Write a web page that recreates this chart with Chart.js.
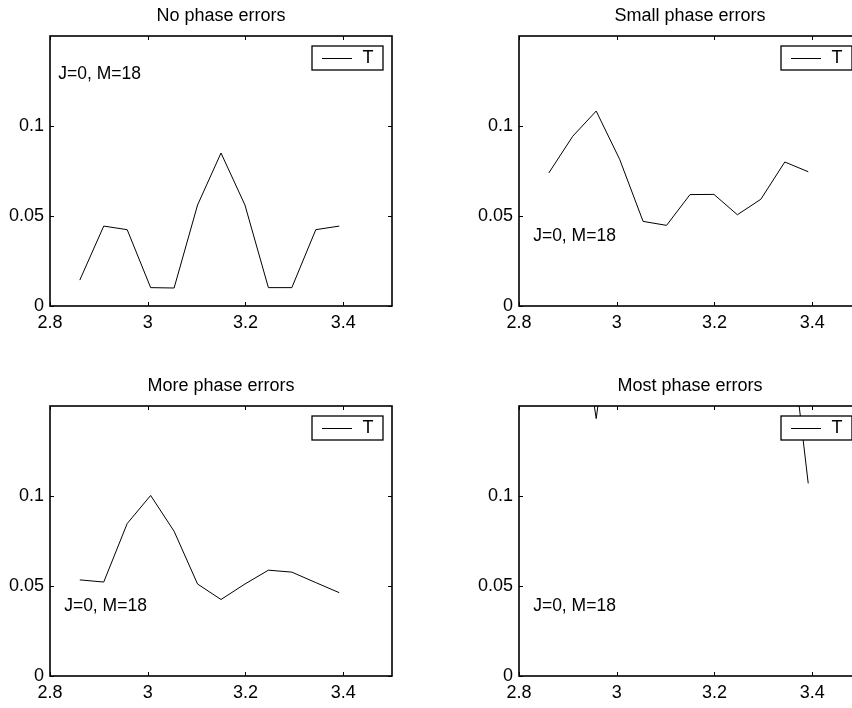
<!DOCTYPE html>
<html>
<head>
<meta charset="utf-8">
<script src="https://cdn.jsdelivr.net/npm/chart.js@4.4.1/dist/chart.umd.min.js"></script>
<style>
  body { margin: 0; width: 852px; height: 708px; overflow: hidden; background: #fff; position: relative; }
  canvas { position: absolute; }
</style>
</head>
<body>
<canvas id="c0" width="426" height="354" style="left:0;top:0"></canvas>
<canvas id="c1" width="426" height="354" style="left:469px;top:0"></canvas>
<canvas id="c2" width="426" height="354" style="left:0;top:370px"></canvas>
<canvas id="c3" width="426" height="354" style="left:469px;top:370px"></canvas>
<script>
// frequency points (same for all four panels)
const freq = [2.861, 2.910, 2.958, 3.006, 3.054, 3.102, 3.150, 3.199, 3.247, 3.295, 3.344, 3.392];

const titles = ['No phase errors', 'Small phase errors', 'More phase errors', 'Most phase errors'];

const noErrors    = [0.0144, 0.0444, 0.0424, 0.0102, 0.0100, 0.0561, 0.0850, 0.0561, 0.0102, 0.0102, 0.0424, 0.0444];
const smallErrors = [0.0739, 0.0943, 0.1083, 0.0815, 0.0470, 0.0448, 0.0619, 0.0620, 0.0507, 0.0593, 0.0800, 0.0746];
const moreErrors  = [0.0534, 0.0522, 0.0847, 0.1003, 0.0804, 0.0511, 0.0425, 0.0511, 0.0588, 0.0577, 0.0519, 0.0463];
const mostErrors  = [0.280, 0.230, 0.143, 0.240, 0.300, 0.320, 0.350, 0.300, 0.290, 0.310, 0.218, 0.107]; // mostly off the top
const series = [noErrors, smallErrors, moreErrors, mostErrors];

const xTicks = [2.8, 3, 3.2, 3.4];
const yTicks = [0, 0.05, 0.1];

// "J=0, M=18" note, placed in data units
const noteText = 'J=0, M=18';
const noteX = [2.817, 2.829, 2.829, 2.829];
const noteY = [0.129, 0.039, 0.039, 0.039];

const FONT = 'Liberation Sans, Arial, Helvetica, sans-serif';
const FS = 18;

const fmt = v => String(+(+v).toFixed(4));

// matlab style box: full frame, inward ticks on all sides, note and boxed legend
function matlabAxes(i) {
    return {
        id: 'matlabAxes' + i,
        afterDatasetsDraw(chart) {
            const { ctx, chartArea: a, scales: { x, y } } = chart;
            ctx.save();
            ctx.strokeStyle = '#000';
            ctx.lineWidth = 1;
            ctx.beginPath();
            xTicks.forEach(v => {
                const px = Math.round(x.getPixelForValue(v)) + 0.5;
                ctx.moveTo(px, a.bottom); ctx.lineTo(px, a.bottom - 4);
                ctx.moveTo(px, a.top); ctx.lineTo(px, a.top + 4);
            });
            yTicks.forEach(v => {
                const py = Math.round(y.getPixelForValue(v)) + 0.5;
                ctx.moveTo(a.left, py); ctx.lineTo(a.left + 4, py);
                ctx.moveTo(a.right, py); ctx.lineTo(a.right - 4, py);
            });
            ctx.stroke();

            ctx.lineWidth = 1.6;
            ctx.strokeRect(a.left, a.top, a.right - a.left, a.bottom - a.top);

            // note
            ctx.fillStyle = '#000';
            ctx.font = '17.5px ' + FONT;
            ctx.textAlign = 'left';
            ctx.textBaseline = 'middle';
            ctx.fillText(noteText, x.getPixelForValue(noteX[i]), y.getPixelForValue(noteY[i]));

            // legend box (opaque, drawn over the line)
            const bx = a.right - 80, by = a.top + 10, bw = 71, bh = 24;
            ctx.fillStyle = '#fff';
            ctx.fillRect(bx, by, bw, bh);
            ctx.lineWidth = 1.3;
            ctx.strokeRect(bx, by, bw, bh);
            ctx.lineWidth = 1;
            ctx.beginPath();
            ctx.moveTo(a.right - 70, by + 12.5);
            ctx.lineTo(a.right - 40, by + 12.5);
            ctx.stroke();
            ctx.fillStyle = '#000';
            ctx.textAlign = 'center';
            ctx.font = FS + 'px ' + FONT;
            ctx.fillText(chart.data.datasets[0].label, a.right - 24, by + 12.5);
            ctx.restore();
        }
    };
}

function makeChart(i) {
    const ctx = document.getElementById('c' + i).getContext('2d');
    return new Chart(ctx, {
        type: 'line',
        data: {
            datasets: [{
                label: 'T',
                data: freq.map((f, k) => ({ x: f, y: series[i][k] })),
                borderColor: '#000',
                borderWidth: 1,
                pointRadius: 0,
                tension: 0,
                clip: 0
            }]
        },
        options: {
            responsive: false,
            animation: false,
            layout: { padding: { left: 0, right: 34, top: 0, bottom: 0 } },
            plugins: {
                legend: { display: false },
                tooltip: { enabled: false },
                title: {
                    display: true,
                    text: titles[i],
                    color: '#000',
                    fullSize: false,
                    font: { family: FONT, size: FS, weight: 'normal' },
                    padding: { top: 5.5, bottom: 8.9 }
                }
            },
            scales: {
                x: {
                    type: 'linear',
                    min: 2.8,
                    max: 3.5,
                    afterBuildTicks: s => { s.ticks = xTicks.map(v => ({ value: v })); },
                    afterFit: s => { s.height = 48; },
                    grid: { display: false, drawTicks: false },
                    border: { display: false },
                    ticks: {
                        color: '#000',
                        padding: 6,
                        maxRotation: 0,
                        autoSkip: false,
                        font: { family: FONT, size: FS },
                        callback: fmt
                    }
                },
                y: {
                    type: 'linear',
                    min: 0,
                    max: 0.15,
                    afterBuildTicks: s => { s.ticks = yTicks.map(v => ({ value: v })); },
                    afterFit: s => { s.width = 50; },
                    grid: { display: false, drawTicks: false },
                    border: { display: false },
                    ticks: {
                        color: '#000',
                        padding: 6,
                        autoSkip: false,
                        font: { family: FONT, size: FS },
                        callback: fmt
                    }
                }
            }
        },
        plugins: [matlabAxes(i)]
    });
}

[0, 1, 2, 3].forEach(makeChart);
</script>
</body>
</html>
